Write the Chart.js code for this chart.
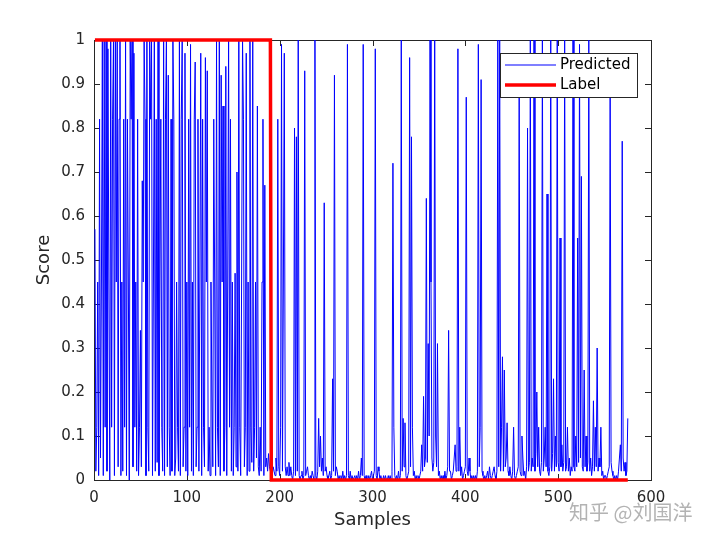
<!DOCTYPE html>
<html>
<head>
<meta charset="utf-8">
<script src="https://cdn.jsdelivr.net/npm/chart.js@4/dist/chart.umd.min.js"></script>
<style>
  body { margin: 0; background: #fff; }
  #wrap { width: 720px; height: 540px; }
</style>
</head>
<body>
<div id="wrap"><canvas id="score-chart" width="720" height="540"></canvas></div>
<script>
// predicted score per sample, starting at sample 1
const predicted = [
  // 1
  0.57, 0.02, 0.12, 0.45, 0.01, 0.82, 0.05, 0.45, 1, 0.01,
  1, 0.12, 1, 0.02, 0.98, 0.45, 0, 1, 0.12, 0.82,
  1, 0.01, 1, 0.45, 1, 0.03, 0.82, 1, 0.01, 0.45,
  0.02, 0.82, 0.12, 1, 0.01, 0.82, 0.45, 0, 1, 0.82,
  1, 0.03, 0.97, 0.12, 0.45, 0.02, 0.82, 0.01, 0.12, 0.34,
  // 51
  0.03, 0.68, 0.45, 1, 0.82, 0.01, 1, 0.12, 0.02, 1,
  0.82, 1, 0.01, 0.45, 1, 0.02, 0.82, 0.04, 1, 0.01,
  0.45, 0.82, 0.12, 0.02, 1, 0.01, 0.82, 1, 0.03, 0.92,
  0.12, 0.01, 0.82, 0.02, 1, 0.82, 0.01, 0.05, 0.45, 0.12,
  0.02, 1, 0.01, 0.82, 1, 0.03, 0.12, 0.97, 0.02, 0.45,
  // 101
  0.01, 0.82, 0.12, 0.99, 0.02, 0.45, 0.01, 0.82, 0.95, 0.03,
  0.12, 0.82, 0.02, 0.45, 0.97, 0.01, 0.82, 0.12, 0.03, 0.96,
  0.45, 0.93, 0.02, 0.12, 0.01, 0.45, 0.2, 0.03, 0.82, 0.45,
  0.01, 1, 0.12, 0.03, 1, 0.01, 0.92, 0.45, 0.85, 0.02,
  0.12, 0.94, 0.01, 0.45, 1, 0.12, 0.82, 0.02, 0.45, 0.01,
  // 151
  0.12, 0.47, 0.03, 0.7, 0.02, 1, 0.12, 0.01, 0.45, 1,
  0.82, 0.03, 0.12, 0.97, 0.01, 0.45, 0.02, 1, 0.12, 0.04,
  1, 0.02, 0.12, 0.45, 0.05, 0.85, 0.03, 0.01, 0.12, 0.02,
  0.45, 0.82, 0.01, 0.67, 0.03, 0.05, 0.02, 0.06, 0.03, 0.02,
  // 191
  0.02, 0.01, 0.03, 0.02, 0.01, 0.05, 0.02, 0.82, 0.03, 0.01,
  0.12, 0.99, 0.02, 0.45, 0.97, 0.03, 0.01, 0.03, 0.01, 0.04,
  0.01, 0.03, 0.01, 0, 0.02, 0.80, 0.01, 0.78, 0.02, 1,
  0.01, 0, 0.01, 0.02, 0, 0.01, 0.93, 0.01, 0.02, 0.03,
  0.01, 0, 0.01, 0, 0.02, 0.01, 0, 1, 0.01, 0,
  // 241
  0.02, 0.14, 0.03, 0.10, 0.02, 0.05, 0.01, 0.63, 0.02, 0.03,
  0.01, 0, 0.01, 0.02, 0, 0.01, 0.23, 0.02, 0.92, 0.01,
  0.03, 0.02, 0, 0.01, 0, 0.01, 0, 0.02, 0, 0.01,
  0, 0.01, 0.99, 0.01, 0, 0.02, 0, 0.01, 0, 0,
  0.01, 0, 0.01, 0, 0.02, 0, 0.01, 0.05, 0.01, 0.99,
  // 291
  0.01, 0, 0.01, 0, 0, 0.01, 0, 0.01, 0.02, 0,
  0.01, 0.02, 0.98, 0.01, 0, 0.03, 0.02, 0, 0.01, 0,
  0, 0.01, 0, 0.01, 0, 0, 0.01, 0, 0.01, 0,
  0.02, 0.72, 0.12, 0.01, 0, 0.01, 0, 0.02, 0, 0.01,
  1, 0.02, 0.14, 0.03, 0.13, 0.01, 0, 0.01, 0.02, 0.96,
  // 341
  0.03, 0.78, 0.12, 0.01, 0.02, 0, 0.01, 0, 0.01, 0,
  0.01, 0.02, 0.08, 0.02, 0.19, 0.03, 0.05, 0.64, 0.04, 0.31,
  0.10, 1, 0.45, 0.05, 0.02, 0.04, 1, 0.10, 0.03, 0.31,
  0.01, 0.02, 0, 0.01, 0, 0.01, 0, 0.02, 0, 0.01,
  0.03, 0.34, 0.02, 0.02, 0, 0.01, 0.02, 0.05, 0.08, 0.02,
  // 391
  0.03, 0.98, 0.02, 0.12, 0.01, 0.03, 0, 0.01, 0.02, 0.03,
  0.87, 0.02, 0.01, 0.05, 0.02, 0, 0.01, 0, 0.01, 0,
  0.01, 0, 0.02, 0.99, 0.03, 0.12, 0.91, 0.02, 0.01, 0,
  0.01, 0, 0.01, 0.02, 0, 0.03, 0.01, 0, 0.01, 0.02,
  0.03, 0.01, 0, 0.02, 1, 0.03, 1, 0.02, 0.12, 0.28,
  // 441
  0.02, 0.25, 0.03, 0.05, 0.13, 0.02, 0.01, 0.03, 0.01, 0,
  0.02, 0.12, 0.01, 0, 0.01, 0.02, 0.03, 0.90, 0.02, 0.01,
  0.10, 0.05, 0.01, 0.02, 0, 0.03, 0.80, 0.02, 0.04, 1,
  0.02, 0.05, 0.03, 1, 0.02, 0.06, 0.20, 0.03, 0.12, 0.02,
  0.01, 0.04, 1, 0.02, 0.05, 0.12, 0.03, 0.65, 0.02, 0.01,
  // 491
  0.03, 1, 0.02, 0.06, 0.23, 0.02, 0.10, 0.03, 1, 0.04,
  0.02, 0.55, 0.03, 0.08, 0.02, 0.04, 1, 0.02, 0.03, 0.12,
  0.02, 0.05, 0.01, 0.03, 0.02, 1, 0.03, 0.02, 0.10, 0.03,
  0.55, 0.04, 0.99, 0.05, 0.69, 0.03, 0.02, 0.25, 0.03, 0.10,
  0.02, 0.04, 1, 0.02, 0.05, 0.01, 0.03, 0.18, 0.02, 0.12,
  // 541
  0.03, 0.30, 0.02, 0.05, 0.03, 0.12, 0.01, 0.02, 0, 0.01,
  0.01, 0, 0.01, 0.02, 0.03, 0.90, 0.04, 0.02, 0.01, 0,
  0.01, 0, 0.01, 0, 0.02, 0.05, 0.08, 0.02, 0.77, 0.05,
  0.02, 0.04, 0.01, 0.02, 0.14,
];

// ground truth label: corner points of the step
const labelX = [1, 190, 191, 575];
const labelY = [1, 1, 0, 0];

const xTicks = [0, 100, 200, 300, 400, 500, 600];
const yTicks = [0, 0.1, 0.2, 0.3, 0.4, 0.5, 0.6, 0.7, 0.8, 0.9, 1];

const axisColor = "#262626";
const fontFamily = "'DejaVu Sans', sans-serif";

Chart.defaults.color = axisColor;
Chart.defaults.font.family = fontFamily;

// box round the axes with inward ticks on all four sides, legend, watermark
const boxPlugin = {
  id: "box",
  beforeDatasetsDraw(chart) {
    const { ctx, chartArea: a, scales } = chart;
    ctx.save();
    ctx.strokeStyle = axisColor;
    ctx.lineWidth = 1;
    ctx.strokeRect(a.left + 0.5, a.top + 0.5, a.right - a.left, a.bottom - a.top);
    ctx.beginPath();
    xTicks.forEach((v) => {
      const px = Math.round(scales.x.getPixelForValue(v)) + 0.5;
      ctx.moveTo(px, a.bottom);
      ctx.lineTo(px, a.bottom - 6);
      ctx.moveTo(px, a.top);
      ctx.lineTo(px, a.top + 6);
    });
    yTicks.forEach((v) => {
      const py = Math.round(scales.y.getPixelForValue(v)) + 0.5;
      ctx.moveTo(a.left, py);
      ctx.lineTo(a.left + 6, py);
      ctx.moveTo(a.right, py);
      ctx.lineTo(a.right - 6, py);
    });
    ctx.stroke();
    ctx.restore();
  },
  afterDatasetsDraw(chart) {
    const { ctx } = chart;
    ctx.save();
    ctx.fillStyle = "#fff";
    ctx.fillRect(500, 53, 137, 44);
    ctx.strokeStyle = axisColor;
    ctx.lineWidth = 1;
    ctx.strokeRect(500.5, 53.5, 137, 44);
    ctx.restore();

    ctx.save();
    ctx.beginPath();
    ctx.strokeStyle = "#0000ff";
    ctx.lineWidth = 1.2;
    ctx.moveTo(505, 65);
    ctx.lineTo(556, 65);
    ctx.stroke();
    ctx.restore();

    ctx.save();
    ctx.beginPath();
    ctx.strokeStyle = "#ff0000";
    ctx.lineWidth = 3.5;
    ctx.moveTo(505, 85);
    ctx.lineTo(556, 85);
    ctx.stroke();
    ctx.restore();

    ctx.save();
    ctx.fillStyle = "#000";
    ctx.font = "15px " + fontFamily;
    ctx.textBaseline = "middle";
    ctx.fillText("Predicted", 560, 65);
    ctx.fillText("Label", 560, 85);
    ctx.restore();
  },
  afterDraw(chart) {
    const { ctx } = chart;
    ctx.save();
    ctx.font = "20px 'Noto Sans CJK SC', sans-serif";
    ctx.textBaseline = "middle";
    ctx.fillStyle = "rgba(160,160,160,0.8)";
    ctx.fillText("知乎 @刘国洋", 569, 512);
    ctx.restore();
  },
};

const chartData = {
  datasets: [
    {
      label: "Predicted",
      data: predicted.map((v, i) => ({ x: i + 1, y: v })),
      borderColor: "#0000ff",
      borderWidth: 1,
      pointRadius: 0,
      tension: 0,
      order: 2,
    },
    {
      label: "Label",
      data: labelX.map((x, i) => ({ x: x, y: labelY[i] })),
      borderColor: "#ff0000",
      borderWidth: 3.5,
      pointRadius: 0,
      tension: 0,
      clip: false,
      order: 1,
    },
  ],
};

const scoreChart = new Chart(document.getElementById("score-chart"), {
  type: "line",
  data: chartData,
  plugins: [boxPlugin],
  options: {
    responsive: false,
    animation: false,
    layout: { padding: { left: 30, top: 40, right: 69, bottom: 5 } },
    plugins: { legend: { display: false }, tooltip: { enabled: false } },
    scales: {
      x: {
        type: "linear",
        min: 0,
        max: 600,
        afterFit: (scale) => { scale.height = 55; },
        afterBuildTicks: (scale) => { scale.ticks = xTicks.map((v) => ({ value: v })); },
        grid: { display: false, drawTicks: false },
        border: { display: false },
        ticks: { padding: 9, font: { size: 15 }, color: axisColor, callback: (v) => String(v) },
        title: { display: true, text: "Samples", font: { size: 18 }, color: axisColor },
      },
      y: {
        type: "linear",
        min: 0,
        max: 1,
        afterFit: (scale) => { scale.width = 64; },
        afterBuildTicks: (scale) => { scale.ticks = yTicks.map((v) => ({ value: v })); },
        grid: { display: false, drawTicks: false },
        border: { display: false },
        ticks: { padding: 9, font: { size: 15 }, color: axisColor, callback: (v) => String(Math.round(v * 10) / 10) },
        title: { display: true, text: "Score", font: { size: 18 }, color: axisColor },
      },
    },
  },
});
</script>
</body>
</html>
